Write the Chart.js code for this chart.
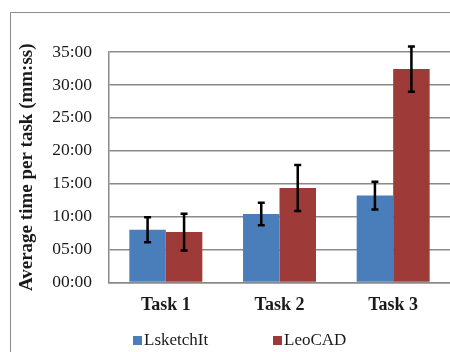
<!DOCTYPE html>
<html>
<head>
<meta charset="utf-8">
<script src="https://cdn.jsdelivr.net/npm/chart.js@4/dist/chart.umd.min.js"></script>
<style>
  html, body { margin: 0; padding: 0; background: #fff; overflow: hidden; }
  #wrap { position: relative; width: 450px; height: 352px; }
  #chart { position: absolute; left: 0; top: 0; }
  #frame {
    position: absolute; left: 10px; top: 12px; width: 470px; height: 370px;
    border-left: 1.5px solid #8c8c8c; border-top: 1.5px solid #8c8c8c;
    pointer-events: none;
  }
  #legend {
    position: absolute; left: 133px; top: 330px; display: flex;
    font-family: "Liberation Serif", "Times New Roman", serif; font-size: 17px; color: #1a1a1a;
  }
  #legend .item { display: flex; align-items: center; }
  #legend .item:first-child { width: 140px; }
  #legend .box { width: 9px; height: 9px; margin-right: 2px; }
</style>
</head>
<body>
<div id="wrap">
  <canvas id="chart" width="450" height="352"></canvas>
  <div id="frame"></div>
  <div id="legend"></div>
</div>
<script>
/* ── Data (minutes) ── */
const tasks = ['Task 1', 'Task 2', 'Task 3'];
const seriesNames = ['LsketchIt', 'LeoCAD'];
const lsketchitMean = [8.0, 10.4, 13.2];
const lsketchitErr = [1.9, 1.7, 2.1];
const leocadMean = [7.65, 14.35, 32.4];
const leocadErr = [2.8, 3.5, 3.45];
const yMax = 35;
const yStep = 5;

const BLUE = '#4a7ebb';
const RED = '#9e3a37';
const GRID = '#8a8a8a';
const FONT = '"Liberation Serif", "Times New Roman", serif';

function mmss(v) {
    const m = Math.floor(v);
    const s = Math.round((v - m) * 60);
    return String(m).padStart(2, '0') + ':' + String(s).padStart(2, '0');
}

/* ── Error bars drawn through the y scale ── */
const errorBars = {
    id: 'errorBars',
    afterDatasetsDraw(chart) {
        const { ctx, scales: { y } } = chart;
        ctx.save();
        ctx.strokeStyle = '#000';
        ctx.lineWidth = 2.5;
        chart.data.datasets.forEach((ds, i) => {
            const meta = chart.getDatasetMeta(i);
            meta.data.forEach((bar, j) => {
                const v = ds.data[j], e = ds.errors[j];
                const top = y.getPixelForValue(v + e);
                const bot = y.getPixelForValue(v - e);
                const cap = 3.5;
                ctx.beginPath();
                ctx.moveTo(bar.x, top); ctx.lineTo(bar.x, bot);
                ctx.moveTo(bar.x - cap, top); ctx.lineTo(bar.x + cap, top);
                ctx.moveTo(bar.x - cap, bot); ctx.lineTo(bar.x + cap, bot);
                ctx.stroke();
            });
        });
        ctx.restore();
    }
};

/* ── HTML legend built from datasets ── */
const htmlLegend = {
    id: 'htmlLegend',
    afterUpdate(chart) {
        const el = document.getElementById('legend');
        el.innerHTML = '';
        chart.data.datasets.forEach(ds => {
            const item = document.createElement('div');
            item.className = 'item';
            const box = document.createElement('span');
            box.className = 'box';
            box.style.background = ds.backgroundColor;
            const txt = document.createElement('span');
            txt.textContent = ds.label;
            item.appendChild(box);
            item.appendChild(txt);
            el.appendChild(item);
        });
    }
};

new Chart(document.getElementById('chart').getContext('2d'), {
    type: 'bar',
    data: {
        labels: tasks,
        datasets: [
            { label: seriesNames[0], data: lsketchitMean, errors: lsketchitErr, backgroundColor: BLUE },
            { label: seriesNames[1], data: leocadMean, errors: leocadErr, backgroundColor: RED },
        ]
    },
    options: {
        responsive: false,
        animation: false,
        layout: { padding: { top: 52, left: 0, right: 0, bottom: 39.5 } },
        datasets: { bar: { categoryPercentage: 0.642, barPercentage: 1.0 } },
        plugins: {
            legend: { display: false },
            tooltip: { enabled: false },
        },
        scales: {
            x: {
                grid: { display: false, drawTicks: false },
                border: { display: true, color: GRID, width: 1.5 },
                ticks: { color: '#1a1a1a', padding: 12, font: { family: FONT, size: 18, weight: 'bold' } },
                afterFit: (s) => { s.height = 30; },
            },
            y: {
                min: 0, max: yMax,
                ticks: {
                    stepSize: yStep,
                    color: '#1a1a1a',
                    padding: 17,
                    font: { family: FONT, size: 17.5 },
                    callback: (v) => mmss(v),
                },
                grid: { color: GRID, lineWidth: 1.5, drawTicks: false },
                border: { display: true, color: GRID, width: 1.5 },
                title: {
                    display: true,
                    text: 'Average time per task (mm:ss)',
                    color: '#1a1a1a',
                    font: { family: FONT, size: 19, weight: 'bold' },
                    padding: { top: 15.5, bottom: 0 },
                },
                afterFit: (s) => { s.width = 109; },
            }
        }
    },
    plugins: [errorBars, htmlLegend]
});
</script>
</body>
</html>
